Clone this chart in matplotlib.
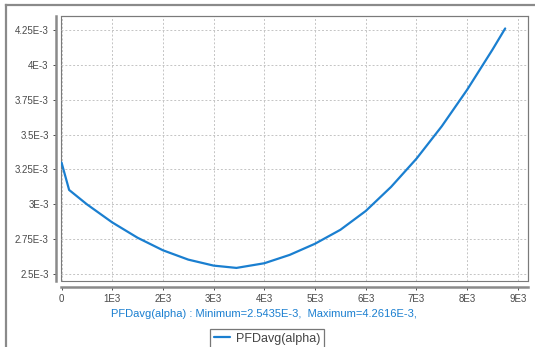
import matplotlib
matplotlib.use("Agg")
import matplotlib.pyplot as plt
from matplotlib.lines import Line2D
from matplotlib.patches import Rectangle

# curve (alpha, PFDavg in units of 1E-3)
alpha = [0, 150, 500, 1000, 1500, 2000, 2500, 3000, 3450, 4000, 4500,
         5000, 5500, 6000, 6500, 7000, 7500, 8000, 8500, 8750]
pfd = [3.30, 3.103, 3.0, 2.87, 2.76, 2.67, 2.603, 2.56, 2.5435, 2.577, 2.637,
       2.717, 2.817, 2.952, 3.125, 3.327, 3.56, 3.822, 4.11, 4.2616]

x_ticks = [0, 1000, 2000, 3000, 4000, 5000, 6000, 7000, 8000, 9000]
x_labels = ["0", "1E3", "2E3", "3E3", "4E3", "5E3", "6E3", "7E3", "8E3", "9E3"]
y_ticks = [2.5, 2.75, 3.0, 3.25, 3.5, 3.75, 4.0, 4.25]
y_labels = ["2.5E-3", "2.75E-3", "3E-3", "3.25E-3", "3.5E-3", "3.75E-3", "4E-3", "4.25E-3"]

caption = "PFDavg(alpha) : Minimum=2.5435E-3,  Maximum=4.2616E-3,"
series_name = "PFDavg(alpha)"

blue = "#1a7fd0"
W, H = 535, 347
plt.rcParams["font.family"] = ["Liberation Sans", "DejaVu Sans"]

fig = plt.figure(figsize=(W / 100, H / 100), dpi=100)
fig.patch.set_facecolor("white")

# outer gray frame (left and top visible)
fig.add_artist(Line2D([6 / W, 6 / W], [0, 1 - 5 / H], transform=fig.transFigure,
                      color="#8a8a8a", lw=1.6))
fig.add_artist(Line2D([6 / W, 1], [1 - 5 / H, 1 - 5 / H], transform=fig.transFigure,
                      color="#8a8a8a", lw=1.6))

left, right, top, bottom = 60.5, 528, 16, 281
ax = fig.add_axes([left / W, 1 - bottom / H, (right - left) / W, (bottom - top) / H])

ax.plot(alpha, pfd, color=blue, lw=1.6, label=series_name,
        solid_capstyle="round", solid_joinstyle="round")

ax.set_xlim(-20, 9200)
ax.set_ylim(2.4496, 4.351)
ax.set_xticks(x_ticks)
ax.set_xticklabels(x_labels)
ax.set_yticks(y_ticks)
ax.set_yticklabels(y_labels)
ax.tick_params(axis="both", labelsize=7, colors="#4a4a4a", length=2.5, width=0.7)
ax.tick_params(axis="x", pad=3)
ax.tick_params(axis="y", pad=3)

ax.grid(True, color="#c4c4c4", lw=0.7, linestyle=(0, (2, 2)))

for s in ["top", "right"]:
    ax.spines[s].set_color("#7a7a7a")
    ax.spines[s].set_linewidth(0.8)
ax.spines["left"].set_position(("outward", 3))
ax.spines["left"].set_color("#8a8a8a")
ax.spines["left"].set_linewidth(1.8)
ax.spines["bottom"].set_position(("outward", 4))
ax.spines["bottom"].set_color("#8a8a8a")
ax.spines["bottom"].set_linewidth(1.8)
ax.add_patch(Rectangle((0, 0), 1, 1, transform=ax.transAxes, fill=False,
                       edgecolor="#7a7a7a", lw=0.8, clip_on=False))

fig.text(264 / W, 1 - 314 / H, caption, color=blue, fontsize=8,
         ha="center", va="center")

leg = fig.legend(loc="upper center", bbox_to_anchor=(267 / W, 1 - 329 / H),
                 fontsize=9, frameon=True, fancybox=False, handlelength=1.3,
                 borderpad=0.3, handletextpad=0.5, borderaxespad=0)
leg.get_frame().set_edgecolor("#555555")
leg.get_frame().set_linewidth(0.9)
for t in leg.get_texts():
    t.set_color("#444444")

fig.savefig("out.png", dpi=100)
